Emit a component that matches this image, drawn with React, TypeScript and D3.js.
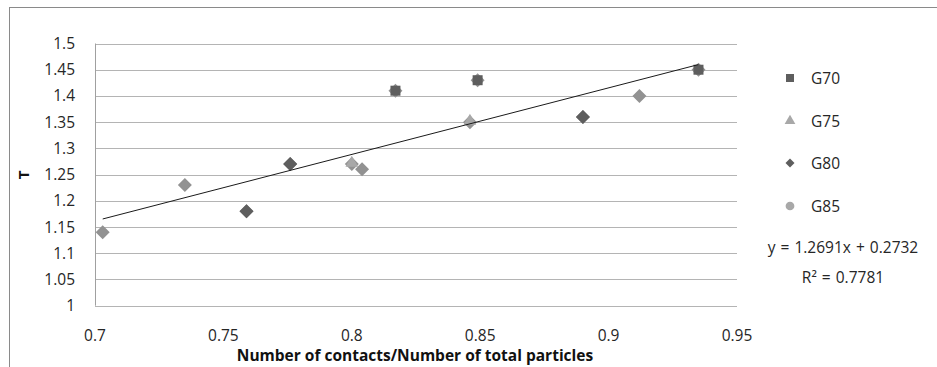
import React from "react";
import * as d3 from "d3";

// Series: contact ratio (x) vs T (y)
const g70X = [0.817, 0.849, 0.935];
const g70Y = [1.41, 1.43, 1.45];
const g75X = [0.8, 0.846];
const g75Y = [1.27, 1.35];
const g80X = [0.759, 0.776, 0.89];
const g80Y = [1.18, 1.27, 1.36];
const g85X = [0.703, 0.735, 0.804, 0.912];
const g85Y = [1.14, 1.23, 1.26, 1.4];

const legendNames = ["G70", "G75", "G80", "G85"];
const xTicks = [0.7, 0.75, 0.8, 0.85, 0.9, 0.95];
const yTicks = [1, 1.05, 1.1, 1.15, 1.2, 1.25, 1.3, 1.35, 1.4, 1.45, 1.5];

// Linear trend over all points
const trendSlope = 1.2691;
const trendIntercept = 0.2732;
const trendLabel = "y = 1.2691x + 0.2732";
const r2Label = "R² = 0.7781";
const xTitle = "Number of contacts/Number of total particles";
const yTitle = "T";

const W = 937;
const H = 367;
const FONT = "'Open Sans', 'Liberation Sans', sans-serif";

const DARK = "#5e5e5e";
const LIGHT = "#a8a8a8";
const MID = "#929292";
const TEXT = "#262626";

export default function App() {
  const x = d3.scaleLinear().domain([0.7, 0.95]).range([95, 737]);
  const y = d3.scaleLinear().domain([1, 1.5]).range([305.7, 43.5]);

  const zip = (xs: number[], ys: number[]) => xs.map((v, i) => [v, ys[i]] as [number, number]);
  const g70 = zip(g70X, g70Y);
  const g75 = zip(g75X, g75Y);
  const g80 = zip(g80X, g80Y);
  const g85 = zip(g85X, g85Y);
  const all = [...g70, ...g75, ...g80, ...g85];

  const sym = (type: d3.SymbolType, size: number) => d3.symbol().type(type).size(size)() as string;
  const diamond = (r: number) => `M0,${-r}L${r},0L0,${r}L${-r},0Z`;
  const squarePath = sym(d3.symbolSquare, 100);
  const trianglePath = sym(d3.symbolTriangle, 70);
  const circlePath = sym(d3.symbolCircle, 55);

  const allX = all.map((p) => p[0]);
  const xMin = d3.min(allX) as number;
  const xMax = d3.max(allX) as number;
  const trend = d3
    .line<number>()
    .x((v) => x(v))
    .y((v) => y(trendSlope * v + trendIntercept));

  const legendY = [78, 121, 163, 206];
  const legendMarkers = [
    { d: sym(d3.symbolSquare, 64), fill: DARK },
    { d: sym(d3.symbolTriangle, 50), fill: LIGHT },
    { d: diamond(4.5), fill: DARK },
    { d: sym(d3.symbolCircle, 60), fill: LIGHT },
  ];

  return (
    <svg width={W} height={H} style={{ position: "absolute", left: 0, top: 0, background: "#fff" }}>
      <rect x={9.5} y={7.5} width={1000} height={500} fill="#fff" stroke="#8a8a8a" strokeWidth={1} />

      {/* horizontal gridlines */}
      {yTicks.map((t) => (
        <line key={t} x1={95} x2={737} y1={Math.round(y(t)) + 0.5} y2={Math.round(y(t)) + 0.5} stroke="#b4b4b4" strokeWidth={1} />
      ))}
      <line x1={95.5} x2={95.5} y1={y(1.5)} y2={y(1)} stroke="#a0a0a0" strokeWidth={1} />

      {/* y tick labels */}
      {yTicks.map((t) => (
        <text key={t} x={75} y={y(t) + 5.5} textAnchor="end" fontFamily={FONT} fontSize={15.5} fill={TEXT}>
          {d3.format("~g")(t)}
        </text>
      ))}
      {/* x tick labels */}
      {xTicks.map((t) => (
        <text key={t} x={x(t)} y={340.5} textAnchor="middle" fontFamily={FONT} fontSize={15.5} fill={TEXT}>
          {d3.format("~g")(t)}
        </text>
      ))}

      <text x={415} y={361} textAnchor="middle" fontFamily={FONT} fontSize={15.5} fontWeight="bold" fill="#111">
        {xTitle}
      </text>
      <text transform="translate(28.5,175) rotate(-90)" textAnchor="middle" fontFamily={FONT} fontSize={15} fontWeight="bold" fill="#111">
        {yTitle}
      </text>

      {/* combined series markers (used for the trendline) */}
      {all.map((p, i) => (
        <path key={"a" + i} d={diamond(7)} transform={`translate(${x(p[0])},${y(p[1])})`} fill={MID} />
      ))}

      {g70.map((p, i) => (
        <path key={"s" + i} d={squarePath} transform={`translate(${x(p[0])},${y(p[1])})`} fill={DARK} />
      ))}
      {g75.map((p, i) => (
        <path key={"t" + i} d={trianglePath} transform={`translate(${x(p[0])},${y(p[1]) - 1})`} fill={LIGHT} />
      ))}
      {g80.map((p, i) => (
        <path key={"d" + i} d={diamond(7)} transform={`translate(${x(p[0])},${y(p[1])})`} fill={DARK} />
      ))}
      {g85.map((p, i) => (
        <path key={"c" + i} d={circlePath} transform={`translate(${x(p[0])},${y(p[1])})`} fill={MID} />
      ))}

      <path d={trend([xMin, xMax]) as string} fill="none" stroke="#1a1a1a" strokeWidth={1} />

      {/* legend */}
      {legendNames.map((name, i) => (
        <g key={name} transform={`translate(790,${legendY[i]})`}>
          <path d={legendMarkers[i].d} fill={legendMarkers[i].fill} />
          <text x={21} y={5.5} fontFamily={FONT} fontSize={15.5} fill={TEXT}>
            {name}
          </text>
        </g>
      ))}

      <text x={843} y={253} textAnchor="middle" fontFamily={FONT} fontSize={15.5} wordSpacing={1} fill={TEXT}>
        {trendLabel}
      </text>
      <text x={843} y={283} textAnchor="middle" fontFamily={FONT} fontSize={15.5} wordSpacing={1} fill={TEXT}>
        {r2Label}
      </text>
    </svg>
  );
}
